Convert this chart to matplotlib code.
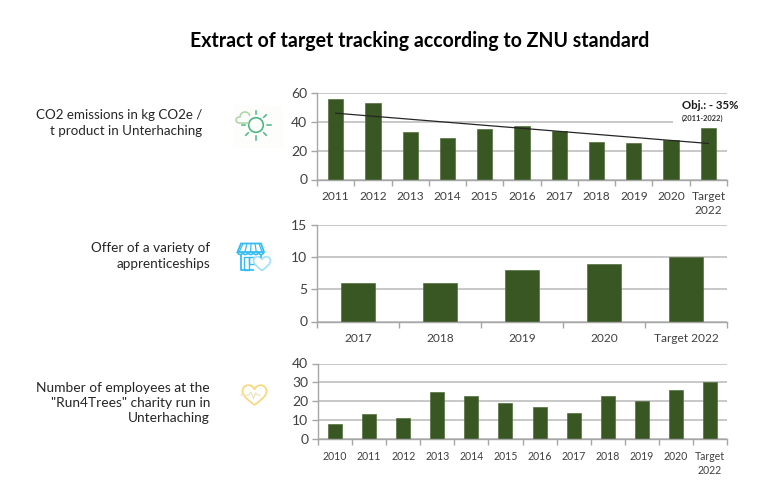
import numpy as np
import matplotlib
matplotlib.use("Agg")
import matplotlib.pyplot as plt
from matplotlib.patches import Arc, Circle, PathPatch, Polygon, Rectangle
from matplotlib.path import Path

W, H = 768, 493

# CO2 emissions
co2_labels = ["2011", "2012", "2013", "2014", "2015", "2016", "2017", "2018",
              "2019", "2020", "Target\n2022"]
co2_values = [55.5, 53, 33, 28.5, 35, 37, 33.5, 26, 25.5, 27.5, 35.5]
co2_trend = [46, 25]

# apprenticeships
app_labels = ["2017", "2018", "2019", "2020", "Target 2022"]
app_values = [6, 6, 8, 9, 10]

# charity run
run_labels = ["2010", "2011", "2012", "2013", "2014", "2015", "2016", "2017",
              "2018", "2019", "2020", "Target\n2022"]
run_values = [8, 13, 11, 25, 23, 19, 17, 14, 23, 20, 26, 30]

BAR = "#385723"
GRID = "#bfbfbf"
AXIS = "#a6a6a6"
TEXT = "#404040"

plt.rcParams["font.family"] = ["Lato", "DejaVu Sans"]

fig = plt.figure(figsize=(W / 100, H / 100), dpi=100)


def px_axes(left, top, right, bottom):
    return fig.add_axes([left / W, 1 - bottom / H, (right - left) / W, (bottom - top) / H])


def bar_panel(box, labels, values, ymax, step, fs, pad):
    ax = px_axes(*box)
    x = np.arange(len(values))
    ax.bar(x, values, width=0.41, color=BAR, edgecolor="#55703f", linewidth=0.5, zorder=2)
    ax.set_xlim(-0.5, len(values) - 0.5)
    ax.set_ylim(0, ymax)
    ax.set_yticks(np.arange(0, ymax + 1, step))
    ax.yaxis.grid(True, color=GRID, linewidth=1.2, zorder=0)
    ax.set_axisbelow(True)
    for s in ("top", "right"):
        ax.spines[s].set_visible(False)
    for s in ("left", "bottom"):
        ax.spines[s].set_color(AXIS)
        ax.spines[s].set_linewidth(1.0)
    # ticks sit on the category boundaries, labels on the centres
    ax.set_xticks(np.arange(len(values) + 1) - 0.5)
    ax.set_xticklabels([])
    ax.set_xticks(x, minor=True)
    ax.set_xticklabels(labels, minor=True, fontsize=fs, color=TEXT, linespacing=1.35)
    ax.tick_params(axis="x", which="major", length=4, color=AXIS, width=1)
    ax.tick_params(axis="x", which="minor", length=0, pad=pad)
    ax.tick_params(axis="y", length=4, color=AXIS, width=1, labelsize=10,
                   labelcolor=TEXT, pad=3)
    return ax


ax1 = bar_panel((317, 93, 727, 179.5), co2_labels, co2_values, 60, 20, 8.6, 8.5)
ax1.plot([0, len(co2_values) - 1], co2_trend, color="#262626", linewidth=0.9, zorder=3)

ax2 = bar_panel((317, 225, 727, 321.5), app_labels, app_values, 15, 5, 8.6, 8.5)

ax3 = bar_panel((318, 363.5, 727, 439), run_labels, run_values, 40, 10, 7.6, 8.5)

# overlay in pixel coordinates for the text and icons
ov = fig.add_axes([0, 0, 1, 1], zorder=5)
ov.set_xlim(0, W)
ov.set_ylim(H, 0)
ov.axis("off")

ov.text(420, 41, "Extract of target tracking according to ZNU standard",
        ha="center", va="center", fontsize=14.05, fontweight="bold", color="black")

# white note box hides the 40 gridline behind the objective label
ov.add_patch(Rectangle((673, 96), 56, 29, facecolor="white", edgecolor="none"))
ov.text(710, 105.5, "Obj.: - 35%", ha="center", va="center", fontsize=8.2, fontweight="bold",
        color="#1a1a1a")
ov.text(702, 118.5, "(2011-2022)", ha="center", va="center", fontsize=5.4, fontweight="bold",
        color="#333333")

side = dict(ha="right", va="center", color="#262626", linespacing=1.33)
ov.text(202, 123, "CO2 emissions in kg CO2e /\nt product in Unterhaching", fontsize=9.6, **side)
ov.text(210, 256, "Offer of a variety of\napprenticeships", fontsize=9.7, **side)
ov.text(210, 403, "Number of employees at the\n\"Run4Trees\" charity run in\nUnterhaching",
        fontsize=9.9, **side)

# sun and cloud icon
ov.add_patch(Rectangle((233, 105), 50, 43, facecolor="#fdfdfb", edgecolor="none"))
GREEN = "#4cb782"
ov.add_patch(Circle((256, 125), 7.3, fill=False, edgecolor=GREEN, linewidth=1.2))
for deg in (-90, -45, 0, 45, 90, 135, 180):
    a = np.deg2rad(deg)
    ov.plot([256 + 11 * np.cos(a), 256 + 14.5 * np.cos(a)],
            [125 + 11 * np.sin(a), 125 + 14.5 * np.sin(a)], color=GREEN, linewidth=1.1)
LIGHT = "#a9d5a8"
ov.add_patch(Arc((245, 117), 10, 10, theta1=170, theta2=345, edgecolor=LIGHT, linewidth=1.1))
ov.add_patch(Arc((239.5, 120), 7, 6, theta1=90, theta2=270, edgecolor=LIGHT, linewidth=1.1))
ov.plot([239.5, 248], [123, 123], color=LIGHT, linewidth=1.1)

# shop and heart icon
BLUE = "#35bdf2"
ov.add_patch(Polygon([(237.5, 252), (241, 243.5), (261, 243.5), (264, 252)], closed=True,
                     fill=False, edgecolor=BLUE, linewidth=1.3))
for i in range(5):
    xc = 240.2 + i * 5.2
    ov.add_patch(Arc((xc, 252), 5.2, 5, theta1=0, theta2=180, edgecolor=BLUE, linewidth=1.2))
    ov.plot([xc - 1 + 0.5 * i, 243 + i * 4], [252, 243.5], color=BLUE, linewidth=0.9)
ov.plot([241, 241, 253], [255, 270, 270], color=BLUE, linewidth=1.3)
ov.plot([260.5, 260.5], [255, 257], color=BLUE, linewidth=1.3)
ov.add_patch(Rectangle((243.5, 257), 5.5, 13, fill=False, edgecolor=BLUE, linewidth=1.0))
ov.add_patch(Rectangle((249, 257), 5.5, 7, fill=False, edgecolor=BLUE, linewidth=1.0))


def heart(cx, cy, s, color, lw):
    verts = [(cx, cy + s),
             (cx - 0.6 * s, cy + 0.55 * s), (cx - 1.2 * s, cy + 0.1 * s), (cx - 1.2 * s, cy - 0.35 * s),
             (cx - 1.2 * s, cy - 1.1 * s), (cx - 0.25 * s, cy - 1.2 * s), (cx, cy - 0.55 * s),
             (cx + 0.25 * s, cy - 1.2 * s), (cx + 1.2 * s, cy - 1.1 * s), (cx + 1.2 * s, cy - 0.35 * s),
             (cx + 1.2 * s, cy + 0.1 * s), (cx + 0.6 * s, cy + 0.55 * s), (cx, cy + s)]
    codes = [Path.MOVETO] + [Path.CURVE4] * 12
    ov.add_patch(PathPatch(Path(verts, codes), facecolor="white", edgecolor=color, linewidth=lw))


heart(262, 263.5, 7, "#a5e2fa", 1.3)

# heart with pulse icon
YEL = "#f9d678"
heart(254.5, 395, 10, YEL, 1.2)
ov.plot([241, 249, 251, 253.5, 255.5, 258, 260], [395, 395, 392, 398.5, 393, 395, 395],
        color="#efe3c0", linewidth=0.9)

fig.savefig("out.png", dpi=100)
